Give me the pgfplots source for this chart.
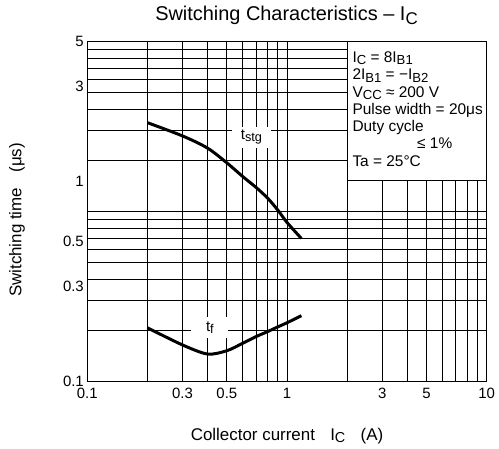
\documentclass[border=0pt]{standalone}
\usepackage{fontspec}
\setmainfont{Liberation Sans}
\usepackage{graphicx}
\usepackage{pgfplots}
\pgfplotsset{compat=1.18}
\newcommand\sub[1]{\raisebox{-0.3ex}{\scalebox{0.85}{#1}}}
\begin{document}
\begin{tikzpicture}
\path[use as bounding box] (-87.3bp,-67.3bp) rectangle (411.7bp,381.7bp);
\begin{axis}[
  at={(0,0)}, anchor=south west,
  scale only axis, width=399.4bp, height=340bp,
  xmode=log, ymode=log,
  xmin=0.1, xmax=10, ymin=0.1, ymax=5,
  xtick={0.1,0.3,0.5,1,3,5,10}, xticklabels={0.1,0.3,0.5,1,3,5,10},
  ytick={0.1,0.3,0.5,1,3,5}, yticklabels={0.1,0.3,0.5,1,3,5},
  minor xtick={0.2,0.3,0.4,0.5,0.6,0.7,0.8,0.9,1,2,3,4,5,6,7,8,9},
  minor ytick={0.1802,0.2543,0.3247,0.3924,0.4582,0.5223,0.5850,0.6466,0.7071,1.2741,1.798,2.2957,2.775,3.240,3.693,4.137,4.572},
  grid=minor,
  minor grid style={black, line width=1pt},
  major tick length=0pt, minor tick length=0pt,
  axis line style={line width=1.6pt},
  tick label style={font=\fontsize{15}{18}\selectfont},
  xticklabel style={yshift=-3bp},
]
\addplot[black, line width=3pt, smooth] coordinates {
 (0.2,1.97) (0.3,1.69) (0.4,1.47) (0.5,1.24) (0.6,1.06) (0.7,0.935) (0.8,0.826) (0.9,0.72) (1.0,0.625) (1.18,0.52)
};
\addplot[black, line width=3pt, smooth] coordinates {
 (0.2,0.186) (0.3,0.1526) (0.4,0.1375) (0.5,0.1429) (0.6,0.1556) (0.7,0.168) (0.8,0.178) (0.9,0.188) (1.0,0.197) (1.18,0.2138)
};
\node[fill=white, inner sep=0pt, minimum width=39bp, minimum height=21bp, font=\fontsize{15}{18}\selectfont] at (axis cs:0.664,1.667) {t\sub{stg}};
\node[fill=white, inner sep=0pt, minimum width=37bp, minimum height=21bp, font=\fontsize{15}{18}\selectfont] at (axis cs:0.411,0.186) {t\sub{f}};
\end{axis}
\draw[fill=white, line width=1.2pt] (260.4bp,201bp) rectangle (399.4bp,340bp);
\begin{scope}[every node/.style={anchor=base west, inner sep=0pt, font=\fontsize{15.5}{18}\selectfont}]
\node at (265bp,319.2bp) {I\sub{C} = 8I\sub{B1}};
\node at (265bp,301.9bp) {2I\sub{B1} = −I\sub{B2}};
\node at (265bp,284.6bp) {V\sub{CC} ≈ 200 V};
\node at (265bp,267.3bp) {Pulse width = 20μs};
\node at (265bp,250bp) {Duty cycle};
\node at (329.7bp,232.7bp) {≤ 1\%};
\node at (265bp,215.4bp) {Ta = 25°C};
\end{scope}
\node[anchor=base, inner sep=0pt, font=\fontsize{20}{24}\selectfont] at (199.2bp,360.7bp) {Switching Characteristics – I\sub{C}};
\node[anchor=base, inner sep=0pt, font=\fontsize{17}{20}\selectfont] at (199.7bp,-58.3bp) {Collector current\hspace{0.9em}I\sub{C}\hspace{0.9em}(A)};
\node[anchor=base, rotate=90, inner sep=0pt, font=\fontsize{17}{20}\selectfont] at (-66bp,161.7bp) {Switching time\hspace{0.9em}(μs)};
\end{tikzpicture}
\end{document}
